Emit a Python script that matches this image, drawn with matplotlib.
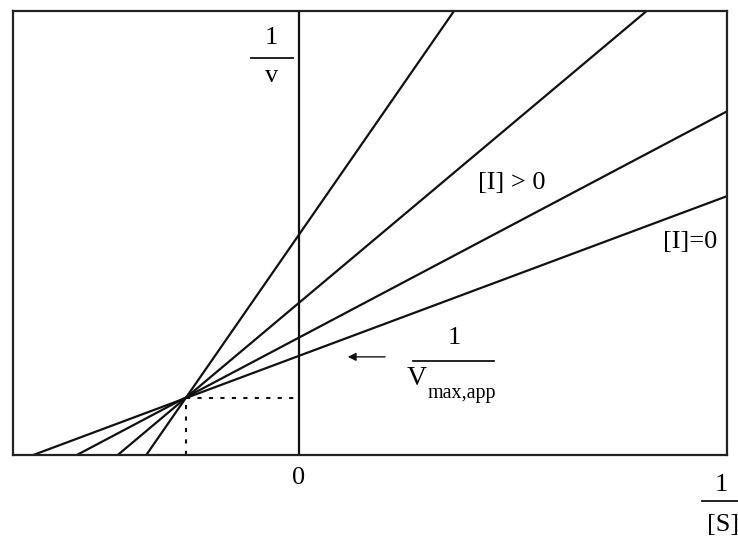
import numpy as np
import matplotlib
matplotlib.use("Agg")
import matplotlib.pyplot as plt

plt.rcParams["font.family"] = ["Liberation Serif", "DejaVu Serif"]

# Lineweaver-Burk lines: 1/v = intercept + slope * (1/[S])
labels = ["high [I]", "mid [I]", "[I] > 0", "[I]=0"]
intercepts = [0.495, 0.342, 0.264, 0.223]
slopes = [2.32, 1.35, 0.85, 0.60]

# common intersection point of the lines
x_cross = -0.158
y_cross = 0.128

x_min, x_max = -0.4, 0.6
y_min, y_max = 0.0, 1.0

fig = plt.figure(figsize=(7.38, 5.41), dpi=100)
ax = fig.add_axes([13 / 738, 86 / 541, 714 / 738, 444 / 541])
ax.set_xlim(x_min, x_max)
ax.set_ylim(y_min, y_max)
ax.set_xticks([])
ax.set_yticks([])
for sp in ax.spines.values():
    sp.set_linewidth(1.6)
    sp.set_color("#222222")

xs = np.array([x_min, x_max])
for b, m in zip(intercepts, slopes):
    ax.plot(xs, b + m * xs, color="#111111", lw=1.6)

# y axis at 1/[S] = 0
ax.axvline(0, color="#111111", lw=1.6)

# dotted guides from the intersection
ax.plot([x_cross, 0], [y_cross, y_cross], color="#111111", lw=1.5,
        linestyle=(0, (2, 3.5)))
ax.plot([x_cross, x_cross], [0, y_cross], color="#111111", lw=1.5,
        linestyle=(0, (2, 3.5)))

fs = 19

# 1/v label
ax.text(-0.038, 0.94, "1", fontsize=fs, ha="center", va="center")
ax.plot([-0.067, -0.008], [0.894, 0.894], color="#111111", lw=1.3)
ax.text(-0.038, 0.853, "v", fontsize=fs, ha="center", va="center")

# line labels
ax.text(0.298, 0.613, "[I] > 0", fontsize=fs, ha="center", va="center")
ax.text(0.549, 0.48, "[I]=0", fontsize=fs, ha="center", va="center")

# 1/Vmax,app label with arrow to the y axis
ax.text(0.218, 0.263, "1", fontsize=fs, ha="center", va="center")
ax.plot([0.16, 0.274], [0.212, 0.212], color="#111111", lw=1.3)
ax.text(0.152, 0.172, "V", fontsize=fs + 1, ha="left", va="center")
ax.text(0.181, 0.138, "max,app", fontsize=14.5, ha="left", va="center")
ax.annotate("", xy=(0.065, 0.221), xytext=(0.125, 0.221),
            arrowprops=dict(arrowstyle="-|>", color="#111111", lw=1.0,
                            mutation_scale=12))

# x axis labels below the frame
ax.text(0, -0.052, "0", fontsize=fs, ha="center", va="center", clip_on=False)
ax.text(0.592, -0.068, "1", fontsize=fs, ha="center", va="center", clip_on=False)
ax.plot([0.565, 0.62], [-0.103, -0.103], color="#111111", lw=1.3, clip_on=False)
ax.text(0.594, -0.157, "[S]", fontsize=fs, ha="center", va="center", clip_on=False)

fig.savefig("out.png", dpi=100)
